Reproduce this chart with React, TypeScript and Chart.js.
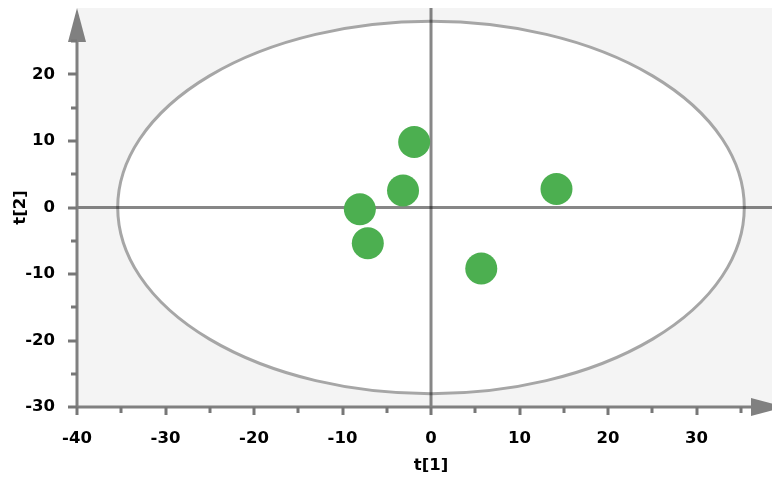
import React, { useEffect, useRef } from "react";
import { Chart, registerables } from "chart.js";

Chart.register(...registerables);

const xValues = [-1.9, -3.16, -8.04, -7.14, 14.18, 5.68];
const yValues = [9.85, 2.56, -0.27, -5.38, 2.78, -9.17];
const xTicks = [-40, -30, -20, -10, 0, 10, 20, 30];
const yTicks = [-30, -20, -10, 0, 10, 20];
const xMinorTicks = [-35, -25, -15, -5, 5, 15, 25, 35];
const yMinorTicks = [-25, -15, -5, 5, 15, 25];
const ellipseRadii = [35.4, 28.0];

const AXIS = "#808080";
const FONT = "'DejaVu Sans', sans-serif";
const FONT_SIZE = 16.5;

const decorPlugin = {
  id: "decor",
  beforeDatasetsDraw(chart: any) {
    const { ctx, chartArea: a, scales } = chart;
    const xs = scales.x;
    const ys = scales.y;
    ctx.save();
    ctx.fillStyle = "#f4f4f4";
    ctx.fillRect(a.left, a.top, a.right - a.left, a.bottom - a.top);
    const cx = xs.getPixelForValue(0);
    const cy = ys.getPixelForValue(0);
    const rx = Math.abs(xs.getPixelForValue(ellipseRadii[0]) - cx);
    const ry = Math.abs(ys.getPixelForValue(ellipseRadii[1]) - cy);
    ctx.beginPath();
    ctx.ellipse(cx, cy, rx, ry, 0, 0, Math.PI * 2);
    ctx.fillStyle = "#ffffff";
    ctx.fill();
    ctx.lineWidth = 3;
    ctx.strokeStyle = "#a6a6a6";
    ctx.stroke();
    ctx.strokeStyle = "rgba(0,0,0,0.47)";
    ctx.lineWidth = 3;
    ctx.beginPath();
    ctx.moveTo(a.left, cy);
    ctx.lineTo(a.right, cy);
    ctx.stroke();
    ctx.beginPath();
    ctx.moveTo(cx, a.top);
    ctx.lineTo(cx, a.bottom);
    ctx.stroke();
    ctx.strokeStyle = AXIS;
    ctx.lineWidth = 3;
    const x0 = a.left;
    const y0 = a.bottom;
    ctx.beginPath();
    ctx.moveTo(x0, y0);
    ctx.lineTo(x0, a.top + 30);
    ctx.stroke();
    ctx.beginPath();
    ctx.moveTo(x0, y0);
    ctx.lineTo(a.right - 30, y0);
    ctx.stroke();
    ctx.fillStyle = AXIS;
    ctx.beginPath();
    ctx.moveTo(x0, a.top);
    ctx.lineTo(x0 - 9, a.top + 34);
    ctx.lineTo(x0 + 9, a.top + 34);
    ctx.closePath();
    ctx.fill();
    ctx.beginPath();
    ctx.moveTo(a.right, y0);
    ctx.lineTo(a.right - 34, y0 - 9);
    ctx.lineTo(a.right - 34, y0 + 9);
    ctx.closePath();
    ctx.fill();
    ctx.strokeStyle = "#777777";
    ctx.lineWidth = 3;
    xTicks.forEach((v) => {
      const px = Math.round(xs.getPixelForValue(v));
      ctx.beginPath();
      ctx.moveTo(px, y0);
      ctx.lineTo(px, y0 + 8);
      ctx.stroke();
    });
    xMinorTicks.forEach((v) => {
      const px = Math.round(xs.getPixelForValue(v));
      ctx.beginPath();
      ctx.moveTo(px, y0);
      ctx.lineTo(px, y0 + 6);
      ctx.stroke();
    });
    yTicks.forEach((v) => {
      const py = Math.round(ys.getPixelForValue(v));
      ctx.beginPath();
      ctx.moveTo(x0, py);
      ctx.lineTo(x0 - 9, py);
      ctx.stroke();
    });
    yMinorTicks.forEach((v) => {
      const py = Math.round(ys.getPixelForValue(v));
      ctx.beginPath();
      ctx.moveTo(x0, py);
      ctx.lineTo(x0 - 6, py);
      ctx.stroke();
    });
    ctx.restore();
  },
};

const zeroPad = (s: any) => {
  s.paddingTop = 0;
  s.paddingBottom = 0;
  s.paddingLeft = 0;
  s.paddingRight = 0;
};

export default function App() {
  const ref = useRef<HTMLCanvasElement>(null);
  useEffect(() => {
    if (!ref.current) return;
    const chart = new Chart(ref.current, {
      type: "scatter",
      data: {
        datasets: [
          {
            data: xValues.map((x, i) => ({ x, y: yValues[i] })),
            backgroundColor: "#4caf50",
            borderWidth: 0,
            pointRadius: 16,
            pointHoverRadius: 16,
          },
        ],
      },
      options: {
        responsive: false,
        animation: false,
        layout: { autoPadding: false, padding: { top: 8, right: 1, left: 0, bottom: 0 } },
        plugins: { legend: { display: false }, tooltip: { enabled: false } },
        scales: {
          x: {
            type: "linear",
            min: -40,
            max: 40,
            grid: { display: false },
            border: { display: false },
            afterBuildTicks: (s: any) => {
              s.ticks = xTicks.map((v) => ({ value: v }));
            },
            afterFit: (s: any) => {
              s.height = 71;
              zeroPad(s);
            },
            ticks: {
              color: "#000",
              padding: 14,
              maxRotation: 0,
              autoSkip: false,
              font: { family: FONT, size: FONT_SIZE, weight: "bold" },
            },
            title: {
              display: true,
              text: "t[1]",
              color: "#000",
              padding: { top: 0, bottom: 2 },
              font: { family: FONT, size: FONT_SIZE, weight: "bold" },
            },
          },
          y: {
            type: "linear",
            min: -30,
            max: 30,
            grid: { display: false },
            border: { display: false },
            afterBuildTicks: (s: any) => {
              s.ticks = yTicks.map((v) => ({ value: v }));
            },
            afterFit: (s: any) => {
              s.width = 77;
              zeroPad(s);
            },
            ticks: {
              color: "#000",
              padding: 14,
              autoSkip: false,
              font: { family: FONT, size: FONT_SIZE, weight: "bold" },
            },
            title: {
              display: true,
              text: "t[2]",
              color: "#000",
              padding: { top: 11, bottom: 0 },
              font: { family: FONT, size: FONT_SIZE, weight: "bold" },
            },
          },
        },
      },
      plugins: [decorPlugin],
    } as any);
    return () => chart.destroy();
  }, []);
  return (
    <div
      style={{
        position: "fixed",
        left: 0,
        top: 0,
        width: 772,
        height: 478,
        overflow: "hidden",
        background: "#fff",
      }}
    >
      <canvas ref={ref} width={786} height={478} style={{ display: "block" }} />
    </div>
  );
}
